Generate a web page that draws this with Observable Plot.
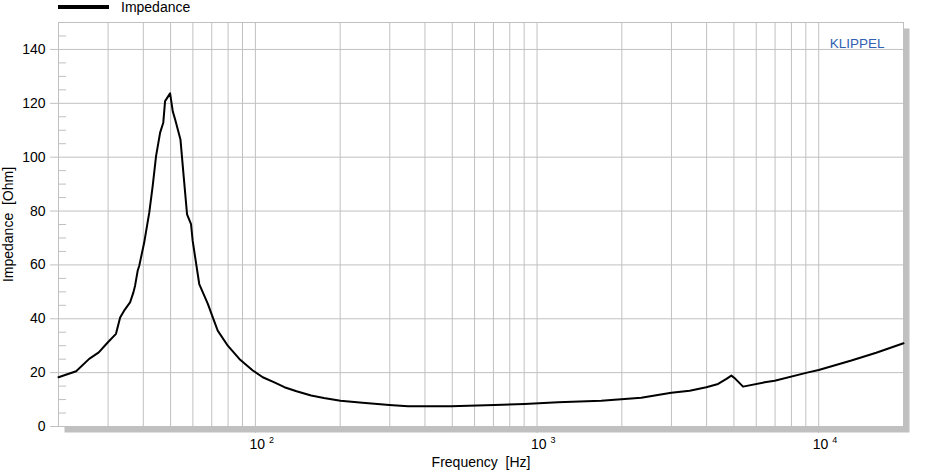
<!DOCTYPE html>
<html><head><meta charset="utf-8">
<script src="https://cdn.jsdelivr.net/npm/d3@7"></script>
<script src="https://cdn.jsdelivr.net/npm/@observablehq/plot@0.6"></script>
<style>body{margin:0;background:#fff;} #chart{width:936px;height:475px;}</style>
</head><body><div id="chart"></div>
<script>
const frequency = [20, 23.1, 25.7, 27.8, 29.9, 32.0, 33.1, 34.2, 35.9, 36.9, 37.4, 38.2, 38.7, 40.3, 42.0, 43.2, 44.4, 45.9, 47.1, 47.8, 49.8, 50.9, 51.9, 54.2, 55.7, 57.2, 59.1, 59.9, 63.2, 67.8, 70.6, 73.5, 79.8, 87.7, 97.9, 106.2, 116.8, 126.8, 140, 157.7, 175, 200.5, 240, 299, 348, 495, 706, 903, 1187, 1690, 2344, 2998, 3483, 3990, 4394, 4703, 4897, 5061, 5387, 6430, 6977, 9170, 10000, 13060, 16000, 20000];
const impedance = [18.3, 20.5, 25.1, 27.5, 31.2, 34.4, 40.5, 43.0, 46.1, 49.8, 52.3, 57.8, 59.7, 68.3, 79.4, 89.3, 100.4, 109.1, 112.8, 120.8, 123.7, 117.0, 114.0, 106.6, 92.4, 78.8, 75.1, 68.9, 52.9, 45.5, 40.5, 35.6, 30.0, 25.1, 20.8, 18.3, 16.4, 14.6, 13.1, 11.5, 10.6, 9.6, 8.8, 8.0, 7.5, 7.5, 8.0, 8.4, 9.0, 9.6, 10.7, 12.5, 13.3, 14.6, 15.8, 17.7, 18.9, 17.7, 14.8, 16.4, 17.0, 20.1, 21.0, 24.5, 27.4, 30.9];
const yTicks = [0, 20, 40, 60, 80, 100, 120, 140];
const yMinorTicks = [5, 10, 15, 25, 30, 35, 45, 50, 55, 65, 70, 75, 85, 90, 95, 105, 110, 115, 125, 130, 135, 145];
const xGridLines = [30, 40, 50, 60, 70, 80, 90, 100, 200, 300, 400, 500, 600, 700, 800, 900, 1000, 2000, 3000, 4000, 5000, 6000, 7000, 8000, 9000, 10000];
const xTicks = [100, 1000, 10000];
const xTickExponents = ["2", "3", "4"];
const seriesName = "Impedance";
const brandLabel = "KLIPPEL";
const xLabel = "Frequency\u00a0\u00a0[Hz]";
const yLabel = "Impedance\u00a0\u00a0[Ohm]";

const data = frequency.map((f, i) => ({f, z: impedance[i]}));
const grey = "#c0c0c0";

const plot = Plot.plot({
  width: 936, height: 475,
  marginLeft: 58, marginRight: 33, marginTop: 22, marginBottom: 49,
  style: {fontFamily: "Arial, 'Liberation Sans', sans-serif", fontSize: "14px", color: "#000", background: "#fff", overflow: "visible"},
  x: {type: "log", domain: [20, 20000]},
  y: {domain: [0, 150]},
  marks: [
    Plot.frame({fill: grey, stroke: null, dx: 6, dy: 6}),
    Plot.frame({fill: "#fff", stroke: null}),
    Plot.gridX(xGridLines, {stroke: grey, strokeOpacity: 1}),
    Plot.gridY(yTicks, {stroke: grey, strokeOpacity: 1}),
    Plot.frame({stroke: grey}),
    Plot.axisY(yMinorTicks, {tickSize: -8, tickFormat: () => "", stroke: grey, label: null}),
    Plot.axisY(yTicks, {tickSize: 8, tickPadding: 5, stroke: grey, fill: "#000", label: yLabel, labelAnchor: "center", labelOffset: 55, labelArrow: "none"}),
    Plot.axisX(xTicks, {tickSize: 7, tickPadding: 6, stroke: grey, fill: "#000", tickFormat: () => "10", label: xLabel, labelAnchor: "center", labelOffset: 40, labelArrow: "none"}),
    Plot.line(data, {x: "f", y: "z", stroke: "#000", strokeWidth: 2}),
    Plot.text([brandLabel], {frameAnchor: "top-right", dx: -19, dy: 15.5, fill: "#3060b0", fontSize: 13.5, textAnchor: "end"})
  ]
});

const svg = d3.select(plot);
svg.selectAll('g[aria-label="x-axis tick label"] text').each(function(d, i) {
  const t = d3.select(this);
  t.attr("text-anchor", "start").attr("dx", -6);
  t.append("tspan").attr("dx", 4).attr("dy", -6).attr("font-size", 9).text(xTickExponents[i]);
});
const leg = svg.append("g").attr("aria-label", "legend");
leg.append("line").attr("x1", 58).attr("x2", 109).attr("y1", 7).attr("y2", 7).attr("stroke", "#000").attr("stroke-width", 4);
leg.append("text").attr("x", 121).attr("y", 7).attr("dy", "0.35em").attr("text-anchor", "start").attr("font-size", 14).attr("fill", "#000").text(seriesName);

document.getElementById("chart").append(plot);
</script>
</body></html>
